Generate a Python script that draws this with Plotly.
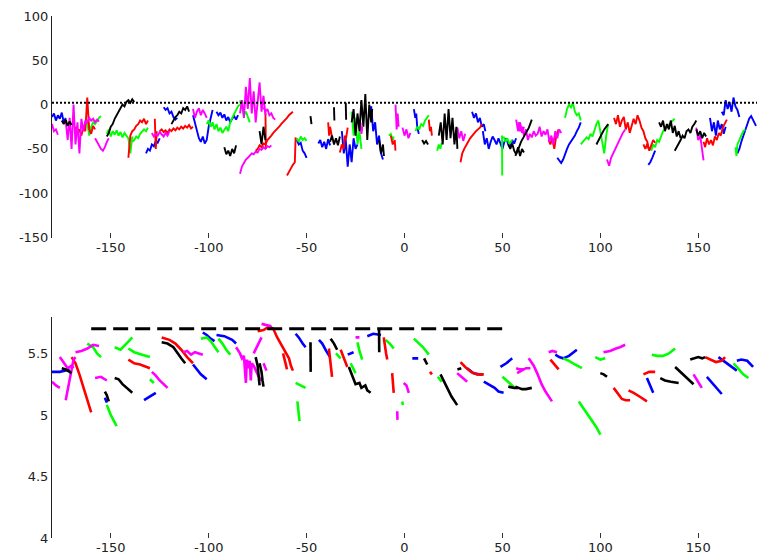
import plotly.graph_objects as go
from plotly.subplots import make_subplots

# ---------------- upper panel: noisy tracks (x in degrees, y value) ----------------
top_blue = [
    [(-180, -14), (-179, -10), (-178, -18), (-177, -12), (-176, -16), (-175, -9), (-174, -20), (-173, -15)],
    [(-132, -55), (-131, -50), (-130, -52), (-129, -45), (-128, -47), (-127, -41), (-126, -43), (-125, -38)],
    [(-123, -3), (-122, -6), (-121, -4), (-120, -10), (-119, -8), (-118, -14), (-117, -17), (-116, -15)],
    [(-108, -12), (-107, -20), (-106, -28), (-105, -38), (-104, -42), (-103, -36), (-102, -44), (-101, -40),
     (-100, -25), (-99, -15), (-98, -6)],
    [(-96, -8), (-95, -12), (-94, -9), (-93, -15), (-92, -11), (-91, -18), (-90, -14), (-89, -20), (-88, -16),
     (-87, -13), (-86, -17), (-85, -12)],
    [(-55, -40), (-54, -45), (-53, -43), (-52, -52), (-51, -55), (-50, -60)],
    [(-44, -44), (-43, -40), (-42, -48), (-41, -42), (-40, -50), (-39, -39), (-38, -46)],
    [(-32, -30), (-31, -55), (-30, -40), (-29, -70), (-28, -45), (-27, -65), (-26, -38), (-25, -50), (-24, -45)],
    [(-18, -10), (-17, -2), (-16, -30), (-15, -20), (-14, -45), (-13, -35), (-12, -55), (-11, -62)],
    [(4.8, -5), (5.5, -15), (6, -10), (6.5, -25), (7.3, -33)],
    [(34.5, -8), (35.5, -15), (36.5, -10), (37.5, -20), (38.5, -15), (39.5, -25), (40.5, -22), (41.3, -30)],
    [(40, -30), (41, -45), (42, -38), (43, -50), (44, -42), (45, -36), (46, -40), (47, -45), (48, -38),
     (49, -44), (50, -50), (51, -42), (52, -38), (53, -45), (54, -48), (55, -40), (56, -44), (57, -38)],
    [(78, -60), (79, -63), (80, -66), (81, -62), (82, -55), (83, -50), (84, -45), (85, -42), (86, -38),
     (87, -35), (88, -30), (89, -26), (90, -20)],
    [(124.5, -68), (125.5, -65), (126.5, -60), (127.5, -55), (128, -52)],
    [(156, -15), (157, -30), (158, -20), (159, -35), (160, -18), (161, -28), (162, -22), (163, -33), (164, -25)],
    [(162, -8), (163, -12), (164, 5), (165, -5), (166, 3), (167, -8), (168, 8), (169, -2), (170, -6), (171, -14)],
    [(170, -55), (171, -50), (172, -42), (173, -36), (174, -30), (175, -22), (176, -16), (177, -13),
     (178, -18), (179, -22), (179.5, -24)],
]

top_green = [
    [(-162, -20), (-161, -35), (-160, -25), (-159, -20), (-158, -22), (-157, -18), (-156, -15), (-155, -13)],
    [(-152, -33), (-151, -28), (-150, -36), (-149, -30), (-148, -34), (-147, -29), (-146, -35), (-145, -31),
     (-144, -37), (-143, -32), (-142, -35), (-141, -38), (-140, -55), (-139, -36)],
    [(-139, -42), (-138, -40), (-137, -36), (-136, -38), (-135, -33), (-134, -31), (-133, -28), (-132, -30),
     (-131, -26)],
    [(-101, -22), (-100, -18), (-99, -25), (-98, -20), (-97, -28), (-96, -22), (-95, -30), (-94, -26),
     (-93, -32), (-92, -28), (-91, -25), (-90, -30), (-89, -20), (-88, -15), (-87, -10), (-86, -5),
     (-85, -2), (-84, 0)],
    [(-84, 5), (-83, -5), (-82, -12), (-81, -8), (-80, -15), (-79, -20)],
    [(-55, -38), (-54, -42), (-53, -36), (-52, -40), (-51, -38), (-50, -41)],
    [(-27, -8), (-26, -35), (-25, -15), (-24, -45), (-23, -30), (-22, -50)],
    [(-8, -35), (-7, -33), (-6, -40), (-5.5, -36)],
    [(5.6, -30), (6.5, -25), (7.5, -28), (8.5, -22), (9.5, -24), (10.5, -18), (11.5, -15), (12.4, -12)],
    [(16.7, -52), (17.5, -45), (18.3, -50), (19, -43)],
    [(49.8, -35), (49.9, -80)],
    [(50.6, -36), (51.5, -42), (52.5, -38), (53.5, -44), (55, -40)],
    [(82, -15), (83, -5), (84, 0), (85, -3), (86, 2), (87, -8), (88, -12), (89, -10), (90, -18)],
    [(90, -45), (91, -42), (92, -40), (93, -37), (94, -39), (95, -33), (96, -36), (97, -28), (98, -22),
     (99, -18), (100, -30), (101, -45), (102, -55), (103, -35), (104, -22)],
    [(126, -52), (127, -45), (128, -48), (129, -40), (130, -42), (131, -35), (132, -30), (133, -28),
     (134, -25), (135, -22), (136, -20), (137, -18), (138, -16)],
    [(169, -48), (169.5, -58), (170, -45), (171, -40), (172, -35), (173, -30), (174, -28)],
]

top_red = [
    [(-168, -25), (-167, -32), (-166, -28), (-165, -35), (-164, -26), (-163, -30), (-162, 8), (-161, -28),
     (-160, -33), (-159, -24), (-158, -28)],
    [(-141, -60), (-140, -35), (-139, -30), (-138, -28), (-137, -24), (-136, -22), (-135, -18), (-134, -20),
     (-133, -16), (-132, -22), (-131, -18)],
    [(-127.5, -16), (-127, -50), (-126.5, -30)],
    [(-125, -30), (-124, -28), (-123, -31), (-122, -29), (-121, -32), (-120, -28), (-119, -30), (-118, -27),
     (-117, -29), (-116, -26), (-115, -28), (-114, -25), (-113, -27), (-112, -24), (-111, -26), (-110, -23),
     (-109, -27), (-108, -25)],
    [(-76, -52), (-75, -50), (-74, -46), (-73, -48), (-72, -44), (-71, -45), (-70, -40), (-69, -38),
     (-68, -35), (-67, -32), (-66, -30), (-65, -28), (-64, -25), (-63, -22), (-62, -20), (-61, -18),
     (-60, -15), (-59, -12), (-58, -10), (-57, -8)],
    [(-71, -9), (-70.8, -50)],
    [(-60, -80), (-59, -75), (-58, -72), (-57, -68), (-56, -65), (-55.6, -37)],
    [(-39, -20), (-38.5, -35), (-38, -25), (-37, -37)],
    [(-33, -54), (-32, -45), (-31, -50), (-30.5, -35), (-30, -40), (-29, -26)],
    [(-7, -35), (-6, -45), (-5, -40), (-4.6, -52)],
    [(12.4, -17), (13, -30), (13.5, -25), (14, -35)],
    [(28.6, -65), (29.5, -55), (30.5, -50), (31.5, -45), (32.5, -42), (33.5, -38), (34.5, -35), (35.5, -33),
     (36.5, -30), (37.5, -28), (38.5, -26), (39.6, -22)],
    [(73.6, -40), (74.5, -45), (75.5, -38), (76.5, -50), (77.5, -35), (78.7, -28)],
    [(107, -15), (108, -22), (109, -12), (110, -25), (111, -18), (112, -14), (113, -28), (114, -20),
     (115, -32), (116, -24), (117, -16), (118, -22), (119, -12), (120, -18), (121, -26), (122, -30),
     (123, -38), (124, -42), (124.6, -50)],
    [(122, -45), (123, -50), (124, -44), (125, -52), (126, -46), (127, -40), (128, -43)],
    [(152.7, -42), (153.5, -48), (154.5, -38), (155.5, -45), (156.5, -40), (157.5, -46), (158.5, -36),
     (159.5, -40), (160.5, -32), (161.5, -35), (162.5, -26), (163.5, -22), (164.6, -17)],
]

top_magenta = [
    [(-180, -22), (-179, -30), (-178, -28), (-177, -34)],
    [(-173, -18), (-172, -40), (-171, -15), (-170, -50), (-169, 0), (-168, -45), (-167, -20), (-166, -55),
     (-165, -16), (-164, -30), (-163, -18), (-162, -20), (-161, -15), (-160, -18), (-159, -16), (-158, -20),
     (-157, -17), (-156, -19)],
    [(-158, -38), (-157, -42), (-156, -45), (-155, -50), (-154, -52), (-153, -48), (-152, -42), (-151, -38)],
    [(-129, -32), (-128, -36), (-127, -33), (-126, -35), (-125, -31), (-124, -34), (-123, -36), (-122, -32),
     (-121, -35), (-120, -30)],
    [(-108, -5), (-107, -15), (-106, -8), (-105, -4), (-104, -12), (-103, -6), (-102, -10), (-101, -15)],
    [(-84, -10), (-83, 5), (-82, -15), (-81, 20), (-80, -5), (-79, 30), (-78, -10), (-77, 15), (-76, -20),
     (-75, 5), (-74, 25), (-73, -8), (-72, 10), (-71, -12)],
    [(-84, -78), (-83, -70), (-82, -66), (-81, -62), (-80, -60), (-79, -58), (-78, -55), (-77, -56),
     (-76, -53), (-75, -54), (-74, -50), (-73, -51), (-72, -48), (-71, -50), (-70, -47), (-69, -48),
     (-68, -46)],
    [(-72, -3), (-71, -8), (-70, -5), (-69, -12), (-68, -10), (-67, -15), (-66, -17)],
    [(-22.5, -20), (-22, -33), (-21.5, -25)],
    [(-4.6, 0), (-4, -28), (-3.5, -10), (-3, -25)],
    [(-1, -26), (0, -35), (1, -28), (2, -38), (3, -32)],
    [(27, -26), (28, -38), (29, -30), (30, -41), (31, -33)],
    [(57, -17), (58, -30), (59, -20), (60, -32), (61, -25)],
    [(58, -20), (59, -30), (60, -25), (61, -35), (62, -28), (63, -40), (64, -33), (65, -37), (66, -30),
     (67, -35), (68, -33), (69, -25), (70, -36), (71, -30), (72, -34), (73, -28), (74, -42), (75, -35),
     (76, -45), (77, -30), (78, -38), (79, -28), (80, -32)],
    [(103.4, -62), (104.5, -69), (105.5, -60), (106.5, -55), (107.5, -50), (108.5, -46), (109.5, -40),
     (110.5, -35), (111.5, -32), (112.7, -28)],
    [(149, -26), (150, -40), (151, -35), (152, -55), (152.7, -63)],
]

top_black = [
    [(-175, -18), (-174, -22), (-173, -17), (-172, -24), (-171, -19), (-170, -23)],
    [(-152, -36), (-151, -32), (-150, -25), (-149, -22), (-148, -16), (-147, -12), (-146, -8), (-145, -5),
     (-144, 0), (-143, -2), (-142, 3), (-141, 5), (-140, 2), (-139, 6), (-138, 3)],
    [(-119, -22), (-118, -18), (-117, -14), (-116, -12), (-115, -8), (-114, -10), (-113, -4), (-112, -6),
     (-111, -2), (-110, -8)],
    [(-92, -48), (-91, -56), (-90, -52), (-89, -58), (-88, -50), (-87, -55), (-86, -46)],
    [(-74, -30), (-73, -45), (-72, -25), (-71, -40)],
    [(-48, -13), (-47.5, -22)],
    [(-38, -42), (-37, -35), (-36, -45), (-35, -38), (-34, -46), (-33, -36)],
    [(-36, -3), (-35.8, -18)],
    [(-30, 2), (-29.8, -17)],
    [(-27, -20), (-26, -5), (-25, -35), (-24, -10), (-23, -30), (-22, 5), (-21, -25), (-20, 12), (-19, -40),
     (-18, 0), (-17, -20), (-16.5, -5)],
    [(-13, -40), (-12, -55), (-11, -45), (-10.5, -58)],
    [(9, -40), (10, -44), (11, -41), (12, -45)],
    [(17.5, -35), (18.5, -20), (19.5, -45), (20.5, -10), (21.5, -40), (22.5, -5), (23.5, -38), (24.5, -15),
     (25.5, -45), (26.5, -25), (27, -50)],
    [(53, -45), (54, -50), (55, -44), (56, -52), (57, -56), (58, -48), (59, -58), (60, -50), (61, -54)],
    [(56.6, -58), (57.5, -52), (58.5, -48), (59.5, -42), (60.5, -38), (61.5, -35), (62.5, -30), (63.5, -26),
     (64.5, -20), (65, -17)],
    [(98, -45), (99, -40), (100, -35), (101, -32), (102, -28), (103, -25), (104, -22)],
    [(130, -20), (131, -25), (132, -18), (133, -30), (134, -22), (135, -28), (136, -18), (137, -32),
     (138, -24), (139, -36), (140, -30), (141, -38)],
    [(138, -52), (139, -48), (140, -45), (141, -40), (142, -35), (143, -38), (144, -30), (145, -28),
     (146, -32), (147, -25), (148, -22), (149, -18)],
    [(149, -28), (150, -35), (151, -30), (152, -38), (153, -32), (154, -36)],
]

# ---------------- lower panel: smooth track pieces ----------------
bot_blue = [
    [(-180, 5.35), (-176, 5.35), (-171, 5.37)],
    [(-153, 5.14), (-152, 5.10)],
    [(-133, 5.12), (-130, 5.15), (-127, 5.18)],
    [(-108, 5.41), (-106, 5.37), (-104, 5.33), (-101, 5.29)],
    [(-103, 5.67), (-101, 5.65), (-99, 5.62), (-97, 5.60)],
    [(-96, 5.65), (-92, 5.64), (-88, 5.61), (-86, 5.58)],
    [(-55.6, 5.66), (-54, 5.63), (-52, 5.58), (-50.5, 5.55)],
    [(-43.7, 5.61), (-42, 5.58), (-40, 5.52), (-38, 5.47)],
    [(-29, 5.49), (-26, 5.51)],
    [(-19, 5.64), (-16, 5.66), (-12, 5.65)],
    [(4, 5.46), (7, 5.46)],
    [(32, 5.38), (35, 5.34), (38, 5.33), (40, 5.33)],
    [(40.5, 5.27), (43, 5.25), (46, 5.22), (48, 5.19), (50.6, 5.18)],
    [(49, 5.39), (52, 5.42), (55, 5.46)],
    [(77, 5.49), (79, 5.47), (81, 5.46), (84, 5.48), (88, 5.53)],
    [(123.8, 5.30), (125.5, 5.24), (127, 5.18)],
    [(154.4, 5.31), (158, 5.24), (162, 5.17)],
    [(160.3, 5.47), (163, 5.44), (166, 5.40), (169.7, 5.36)],
    [(169.7, 5.44), (172, 5.45), (175, 5.44), (178, 5.39)],
]

bot_green = [
    [(-162, 5.58), (-159, 5.55), (-157, 5.50), (-155, 5.47)],
    [(-152, 5.08), (-150, 5.00), (-148, 4.94), (-147, 4.91)],
    [(-148, 5.55), (-145, 5.53), (-142, 5.58), (-139, 5.63)],
    [(-141, 5.54), (-138, 5.51), (-134, 5.49), (-130, 5.47)],
    [(-130, 5.29), (-128, 5.26)],
    [(-104, 5.62), (-101, 5.63), (-99, 5.60), (-97, 5.55), (-95, 5.51)],
    [(-95, 5.62), (-93, 5.58), (-91, 5.53), (-89, 5.49)],
    [(-55.6, 5.26), (-53, 5.24), (-50.5, 5.22)],
    [(-54.7, 5.11), (-54.2, 5.03), (-53.6, 4.95)],
    [(-35, 5.50), (-32.6, 5.46)],
    [(-27.5, 5.42), (-25, 5.34)],
    [(-24, 5.59), (-23, 5.52), (-21.6, 5.45)],
    [(-9.7, 5.61), (-7.5, 5.58), (-5.5, 5.54)],
    [(-1.2, 5.11), (-0.8, 5.08)],
    [(4.8, 5.62), (7, 5.59), (9.5, 5.55), (12.4, 5.49)],
    [(17, 5.31), (19, 5.27)],
    [(50, 5.31), (52, 5.28), (55.7, 5.23)],
    [(81, 5.46), (84, 5.44), (87, 5.41), (90.6, 5.38)],
    [(89, 5.11), (92, 5.04), (95, 4.97), (98, 4.90), (100, 4.84)],
    [(97.4, 5.47), (100, 5.45), (102.5, 5.46)],
    [(126.3, 5.49), (129, 5.48), (132, 5.48), (135, 5.50), (138.2, 5.54)],
    [(168, 5.42), (171, 5.37), (173, 5.33), (175.6, 5.30)],
]

bot_red = [
    [(-170, 5.47), (-168, 5.42), (-166, 5.33), (-164, 5.22), (-162, 5.12), (-160, 5.02)],
    [(-141, 5.45), (-138, 5.42), (-135, 5.41), (-132, 5.39), (-130, 5.38)],
    [(-124, 5.63), (-120, 5.61), (-117, 5.58), (-114, 5.53), (-111, 5.47), (-108, 5.42)],
    [(-75, 5.68), (-72, 5.69), (-69, 5.72), (-67, 5.70), (-65, 5.63), (-63, 5.57), (-61, 5.52),
     (-59, 5.46), (-58, 5.40), (-57, 5.36)],
    [(-62, 5.50), (-61, 5.44), (-60, 5.37)],
    [(-38.6, 5.54), (-38, 5.45), (-37.5, 5.38), (-37, 5.31)],
    [(-32.6, 5.53), (-31, 5.46), (-29.2, 5.39)],
    [(-10.6, 5.63), (-10, 5.55), (-9.4, 5.50), (-8.8, 5.45)],
    [(-6.3, 5.34), (-6, 5.26), (-5.5, 5.18)],
    [(13, 5.35), (14, 5.33)],
    [(28.6, 5.43), (31, 5.39), (34, 5.35), (37, 5.33), (40.5, 5.33)],
    [(74.5, 5.45), (76.5, 5.41), (78.7, 5.37)],
    [(106.8, 5.22), (109, 5.17), (111, 5.13), (113, 5.12), (115.2, 5.12)],
    [(114.4, 5.20), (117, 5.18), (120, 5.15), (123.8, 5.11)],
    [(122, 5.33), (125, 5.35), (128, 5.35)],
    [(153.5, 5.47), (156, 5.45), (159, 5.43), (162, 5.44), (163.7, 5.47)],
]

bot_magenta = [
    [(-180, 5.27), (-178, 5.24), (-176, 5.22)],
    [(-176, 5.47), (-174, 5.42), (-172, 5.38), (-170, 5.40), (-169, 5.38)],
    [(-173, 5.12), (-172, 5.20), (-171, 5.30), (-170, 5.38), (-169, 5.45), (-168, 5.47)],
    [(-168, 5.51), (-165, 5.52), (-162, 5.54), (-159, 5.57), (-156, 5.56)],
    [(-158, 5.30), (-155, 5.31), (-152, 5.28)],
    [(-129, 5.35), (-127, 5.32), (-125, 5.28), (-123, 5.25), (-121, 5.22)],
    [(-113, 5.51), (-111, 5.52), (-109, 5.49), (-107, 5.51), (-105, 5.50), (-103, 5.49)],
    [(-86, 5.55), (-84, 5.50), (-83, 5.46), (-82, 5.48), (-81, 5.26), (-80.5, 5.45), (-80, 5.38),
     (-79, 5.44), (-78.5, 5.28), (-78, 5.42), (-77, 5.40), (-76, 5.36), (-75, 5.33), (-74, 5.30),
     (-73, 5.28)],
    [(-77, 5.50), (-75, 5.56), (-73, 5.63)],
    [(-72, 5.42), (-70.5, 5.36)],
    [(-73, 5.74), (-70, 5.73), (-68, 5.72)],
    [(-25, 5.63), (-23, 5.63)],
    [(-0.4, 5.26), (1, 5.24), (2.2, 5.18)],
    [(-3.7, 5.03), (-3.6, 4.96)],
    [(26.9, 5.34), (29, 5.31), (32, 5.27)],
    [(57, 5.38), (59, 5.37), (61, 5.37)],
    [(57.5, 5.34), (60, 5.36), (62, 5.38), (64.3, 5.38)],
    [(63.4, 5.46), (66, 5.40), (68, 5.33), (70, 5.25), (72, 5.19), (75.3, 5.11)],
    [(73.6, 5.51), (75.5, 5.52), (77.9, 5.51)],
    [(101.6, 5.51), (105, 5.52), (108, 5.54), (110, 5.55), (112.7, 5.57)],
    [(147.6, 5.33), (149.5, 5.28), (151.8, 5.22)],
]

bot_black = [
    [(-175, 5.38), (-173, 5.37), (-171, 5.35), (-170, 5.34)],
    [(-153, 5.19), (-152, 5.16), (-151, 5.11)],
    [(-148, 5.30), (-146, 5.29), (-144, 5.25), (-142, 5.22), (-139, 5.18)],
    [(-124, 5.59), (-121, 5.58), (-118, 5.55), (-116, 5.50), (-114, 5.46), (-112, 5.42)],
    [(-76, 5.47), (-75, 5.40), (-74.5, 5.32), (-74, 5.24)],
    [(-74, 5.42), (-73, 5.35), (-72.5, 5.28), (-72, 5.23)],
    [(-48, 5.59), (-47.9, 5.35)],
    [(-37.7, 5.62), (-36, 5.58), (-34.4, 5.53)],
    [(-28.4, 5.39), (-27, 5.33), (-26, 5.30), (-25, 5.25), (-23, 5.26), (-22, 5.22), (-20, 5.24),
     (-19, 5.20), (-17.3, 5.18)],
    [(-13, 5.69), (-12.9, 5.51)],
    [(10, 5.46), (11, 5.43), (11.6, 5.41)],
    [(18.4, 5.33), (20, 5.28), (22, 5.22), (24, 5.15), (26.9, 5.08)],
    [(27, 5.37), (29, 5.38)],
    [(53, 5.23), (56, 5.22), (58, 5.22)],
    [(56.6, 5.23), (60, 5.21), (62, 5.21), (65, 5.22)],
    [(100, 5.34), (101.7, 5.33), (103.4, 5.31)],
    [(130.6, 5.30), (133, 5.28), (136, 5.27), (140, 5.26)],
    [(138.2, 5.39), (141, 5.35), (144, 5.30), (147.6, 5.25)],
    [(145.9, 5.45), (148, 5.46), (150, 5.47), (152, 5.46), (153.5, 5.47)],
]

# reference lines
zero_line_x = [-180, 180]
zero_line_y = [2, 2]
limit_line_x = [-160, 52]
limit_line_y = [5.7, 5.7]

top_ticks = [-150, -100, -50, 0, 50, 100]
bot_ticks = [4, 4.5, 5, 5.5]
bot_tick_text = ["4", "4.5", "5", "5.5"]
x_ticks = [-150, -100, -50, 0, 50, 100, 150]

COLORS = {"blue": "#0000ff", "green": "#00ff00", "red": "#ff0000",
          "magenta": "#ff00ff", "black": "#000000"}


def flatten(segments):
    xs, ys = [], []
    for seg in segments:
        for x, y in seg:
            xs.append(x)
            ys.append(y)
        xs.append(None)
        ys.append(None)
    return xs, ys


fig = make_subplots(rows=2, cols=1, vertical_spacing=79 / 522)

top_sets = [("blue", top_blue), ("green", top_green), ("red", top_red),
            ("magenta", top_magenta), ("black", top_black)]
bot_sets = [("blue", bot_blue), ("green", bot_green), ("red", bot_red),
            ("magenta", bot_magenta), ("black", bot_black)]

for name, segs in top_sets:
    xs, ys = flatten(segs)
    fig.add_trace(go.Scatter(x=xs, y=ys, mode="lines", connectgaps=False,
                             line=dict(color=COLORS[name], width=1.9)), row=1, col=1)

fig.add_trace(go.Scatter(x=zero_line_x, y=zero_line_y, mode="lines",
                         line=dict(color="black", width=2, dash="2px,2px")), row=1, col=1)

for name, segs in bot_sets:
    xs, ys = flatten(segs)
    fig.add_trace(go.Scatter(x=xs, y=ys, mode="lines", connectgaps=False,
                             line=dict(color=COLORS[name], width=2.6)), row=2, col=1)

fig.add_trace(go.Scatter(x=limit_line_x, y=limit_line_y, mode="lines",
                         line=dict(color="black", width=3, dash="15px,7px")), row=2, col=1)

font = dict(family="DejaVu Sans", size=13, color="#222222")
xcommon = dict(range=[-180, 180], showline=False, showgrid=False, zeroline=False,
               ticks="inside", ticklen=5, tickwidth=1, tickcolor="#333333",
               tickvals=x_ticks, ticktext=[str(v) for v in x_ticks],
               tickfont=font, automargin=False)
fig.update_xaxes(**xcommon, row=1, col=1)
fig.update_xaxes(**xcommon, row=2, col=1)

ycommon = dict(showline=True, linecolor="#222222", linewidth=1, showgrid=False, zeroline=False,
               ticks="", tickfont=font, automargin=False)
fig.update_yaxes(**ycommon, range=[-150, 100], tickvals=top_ticks,
                 ticktext=[str(v) for v in top_ticks], row=1, col=1)
fig.update_yaxes(**ycommon, range=[4, 5.8], tickvals=bot_ticks,
                 ticktext=bot_tick_text, row=2, col=1)

fig.update_layout(width=763, height=557, showlegend=False,
                  margin=dict(l=52, r=6, t=16, b=19),
                  plot_bgcolor="white", paper_bgcolor="white")

fig.write_html("out.html")
